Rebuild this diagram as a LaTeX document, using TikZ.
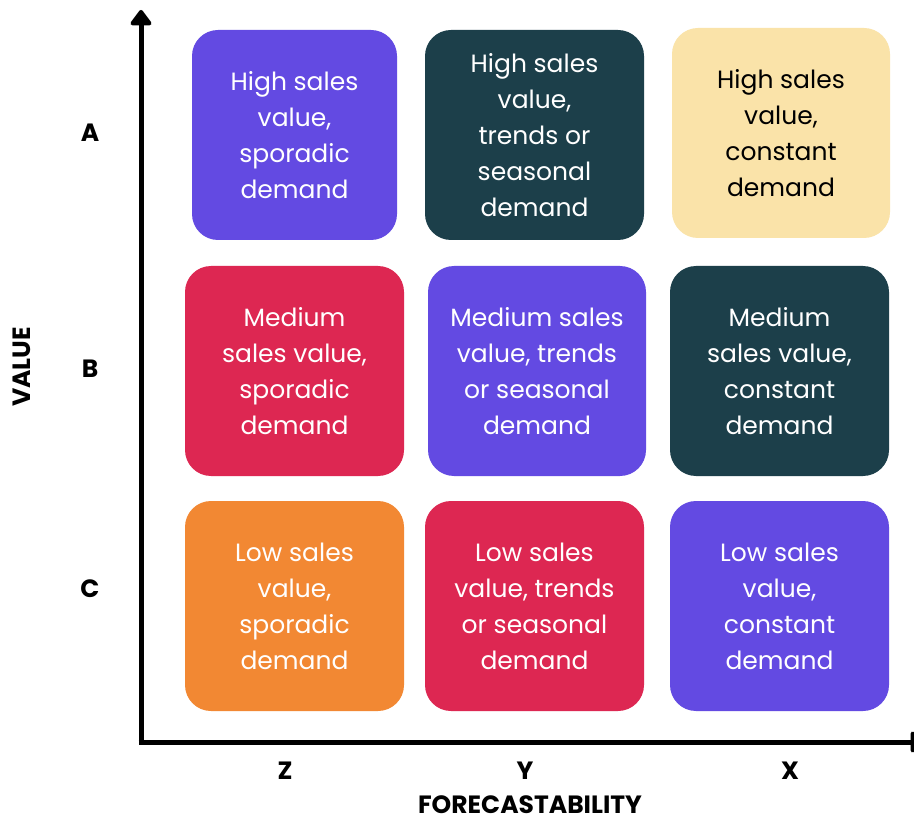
\documentclass[tikz,border=0pt]{standalone}
\usepackage{fontspec}
\setmainfont{Poppins}
\usetikzlibrary{arrows.meta}
\definecolor{cpurple}{HTML}{634AE2}
\definecolor{cteal}{HTML}{1C3F4A}
\definecolor{cyellow}{HTML}{FAE3A9}
\definecolor{cred}{HTML}{DD2752}
\definecolor{corange}{HTML}{F28833}
\begin{document}
\begin{tikzpicture}[x=1pt,y=-1pt,
  cell/.style={rounded corners=26pt, inner sep=0pt, align=center, text=white,
    font=\fontsize{25}{36}\selectfont, minimum height=210pt, minimum width=219pt},
  axislabel/.style={font=\bfseries\fontsize{25}{30}\selectfont, text=black, inner sep=0pt},
  axis/.style={line width=5pt, -{Triangle[width=24pt,length=17pt,round]}}]
\useasboundingbox (0,0) rectangle (914,821);
\fill[white] (0,0) rectangle (914,821);

% axes
\coordinate (origin) at (141,742);
\coordinate (ytip) at (141,10);
\coordinate (xtip) at (926,742);
\begin{scope}
  \clip (0,0) rectangle (914,821);
  \draw[axis] ([yshift=2.5pt]origin) -- (ytip);
  \draw[axis] ([xshift=-2.5pt]origin) -- (xtip);
\end{scope}

% row A
\node[cell, fill=cpurple, minimum width=205pt] (a1) at (294.5,135) {High sales\\value,\\sporadic\\demand};
\node[cell, fill=cteal] (a2) at (534.5,135) {High sales\\value,\\trends or\\seasonal\\demand};
\node[cell, fill=cyellow, text=black, minimum width=218pt] (a3) at (781,133) {High sales\\value,\\constant\\demand};
% row B
\node[cell, fill=cred] (b1) at (294.5,371) {Medium\\sales value,\\sporadic\\demand};
\node[cell, fill=cpurple, minimum width=218pt] (b2) at (537,371) {Medium sales\\value, trends\\or seasonal\\demand};
\node[cell, fill=cteal] (b3) at (779.5,371) {Medium\\sales value,\\constant\\demand};
% row C
\node[cell, fill=corange] (c1) at (294.5,606) {Low sales\\value,\\sporadic\\demand};
\node[cell, fill=cred] (c2) at (534.5,606) {Low sales\\value, trends\\or seasonal\\demand};
\node[cell, fill=cpurple] (c3) at (779.5,606) {Low sales\\value,\\constant\\demand};

% axis labels
\node[axislabel] (la) at (90,133) {A};
\node[axislabel] (lb) at (90,369) {B};
\node[axislabel] (lc) at (90,589) {C};
\node[axislabel] (lz) at (285,771) {Z};
\node[axislabel] (ly) at (525,771) {Y};
\node[axislabel] (lx) at (790,771) {X};
\node[axislabel] (lforecast) at (530,805) {FORECASTABILITY};
\node[axislabel, rotate=90] (lvalue) at (22,367) {VALUE};
\end{tikzpicture}
\end{document}
